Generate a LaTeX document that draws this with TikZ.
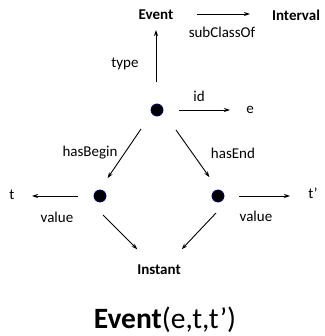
\documentclass[tikz,border=0pt]{standalone}
\usepackage{fontspec}
\setmainfont{Carlito}
\usetikzlibrary{arrows.meta}
\begin{document}
\begin{tikzpicture}[x=1pt,y=-1pt,
  lbl/.style={font=\fontsize{15}{18}\selectfont, inner sep=0pt},
  cls/.style={font=\fontsize{15}{18}\selectfont\bfseries, inner sep=0pt},
  dot/.style={circle, fill=black, draw=blue!40!black, line width=0.8pt, minimum size=12pt, inner sep=0pt},
  arr/.style={-{Stealth[length=6pt,width=4pt]}, line width=0.9pt, shorten >=1pt}]
\useasboundingbox (0,0) rectangle (324,336);
\node[cls] (event) at (156,15) {Event};
\node[cls] (interval) at (296,15) {Interval};
\node[lbl] (subcl) at (222,32) {subClassOf};
\node[dot] (c) at (157,110) {};
\node[lbl] (type) at (125,64) {type};
\node[lbl] (e) at (250,110) {e};
\node[lbl] (id) at (199,96) {id};
\node[dot] (l) at (100,196) {};
\node[dot] (r) at (218,196) {};
\node[lbl] (hb) at (90,153) {hasBegin};
\node[lbl] (he) at (233,153) {hasEnd};
\node[lbl] (t) at (12,195) {t};
\node[lbl] (tp) at (313,193) {t'};
\node[lbl] (v1) at (57,217) {value};
\node[lbl] (v2) at (256,216) {value};
\node[cls] (inst) at (159,270) {Instant};
\node[font=\fontsize{29.5}{34}\selectfont, inner sep=0pt, anchor=base] (formula) at (165,328) {\textbf{Event}(e,t,t’)};
\coordinate (s1) at (197,14); \coordinate (s1e) at (251,14);
\draw[arr] (s1) -- (s1e);
\coordinate (ta) at (156,82); \coordinate (tb) at (156,29);
\draw[arr] (ta) -- (tb);
\coordinate (ia) at (179,110); \coordinate (ib) at (231,110);
\draw[arr] (ia) -- (ib);
\coordinate (ha) at (141,129); \coordinate (hb2) at (107,179);
\draw[arr] (ha) -- (hb2);
\coordinate (ea) at (176,130); \coordinate (eb) at (210,178);
\draw[arr] (ea) -- (eb);
\coordinate (la) at (78,196); \coordinate (lb) at (31,196);
\draw[arr] (la) -- (lb);
\coordinate (ra) at (239,196); \coordinate (rb) at (291,196);
\draw[arr] (ra) -- (rb);
\coordinate (va) at (103,215); \coordinate (vb) at (138,250);
\draw[arr] (va) -- (vb);
\coordinate (wa) at (216,213); \coordinate (wb) at (181,250);
\draw[arr] (wa) -- (wb);
\end{tikzpicture}
\end{document}
